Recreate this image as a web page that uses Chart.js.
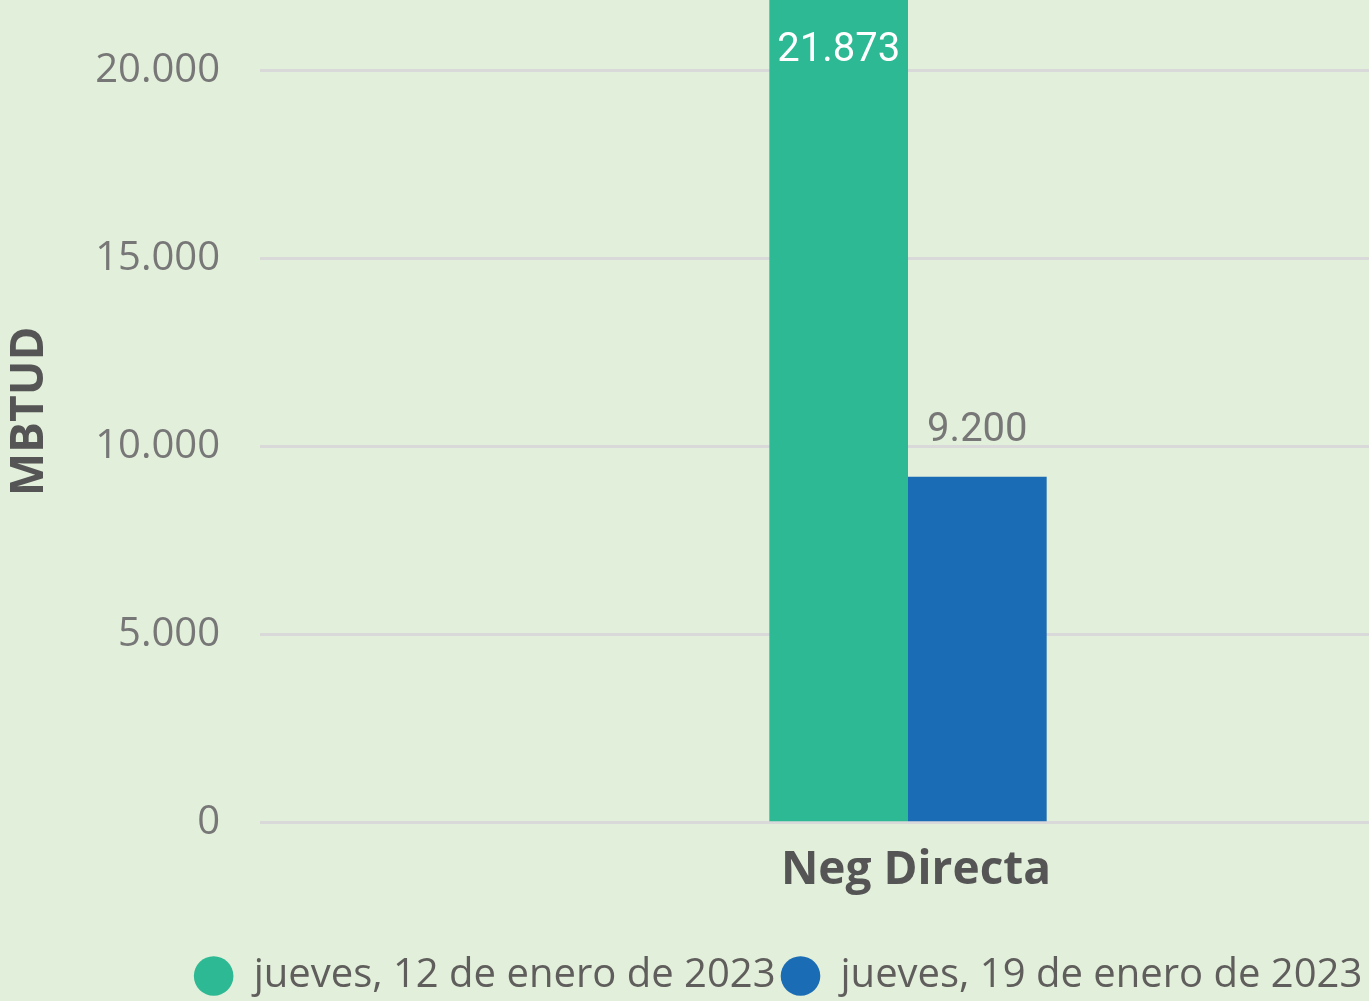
<!DOCTYPE html>
<html lang="es">
<head>
<meta charset="utf-8">
<title>Neg Directa</title>
<script src="https://cdn.jsdelivr.net/npm/chart.js@4/dist/chart.umd.min.js"></script>
<style>
    html, body { margin: 0; padding: 0; background: #e2efda; overflow: hidden; }
    #wrap { width: 1369px; height: 1001px; overflow: hidden; }
</style>
</head>
<body>
<div id="wrap">
    <canvas id="graficoNeg" width="1562" height="1001"></canvas>
</div>

<script>
const categorias = ["Neg Directa"];
const fechas = ["jueves, 12 de enero de 2023", "jueves, 19 de enero de 2023"];
const valores12 = [21873];
const valores19 = [9200];
const ticksY = [0, 5000, 10000, 15000, 20000];
const maxY = 21873;

const colores = ["#2cb993", "#1a6cb4"];



document.addEventListener("DOMContentLoaded", () => {
    crearGrafico();
});



function formato(v){
    return String(Math.round(v)).replace(/\B(?=(\d{3})+(?!\d))/g, ".");
}



// etiquetas de datos (blanca dentro si no cabe arriba)
const etiquetas = {
    id: "etiquetas",
    afterDatasetsDraw(chart){
        const ctx = chart.ctx;
        const area = chart.chartArea;
        ctx.save();
        ctx.font = "40px Roboto";
        ctx.textAlign = "center";
        ctx.textBaseline = "middle";
        chart.data.datasets.forEach((ds, i) => {
            const meta = chart.getDatasetMeta(i);
            meta.data.forEach((bar, j) => {
                const texto = formato(ds.data[j]);
                let y = bar.y - 46;
                ctx.fillStyle = "#777777";
                if (y < area.top + 30) {
                    y = Math.max(bar.y, area.top) + 51;
                    ctx.fillStyle = "#ffffff";
                }
                ctx.fillText(texto, bar.x, y);
            });
        });
        ctx.restore();
    }
};



function crearGrafico(){

    const ctx = document.getElementById("graficoNeg");

    new Chart(ctx, {
        type: "bar",
        data: {
            labels: categorias,
            datasets: [
                {
                    label: fechas[0],
                    data: valores12,
                    backgroundColor: colores[0],
                    categoryPercentage: 0.214,
                    barPercentage: 1
                },
                {
                    label: fechas[1],
                    data: valores19,
                    backgroundColor: colores[1],
                    categoryPercentage: 0.214,
                    barPercentage: 1
                }
            ]
        },
        options: {
            responsive: false,
            animation: false,
            layout: { padding: { left: 0, right: 6, top: 0, bottom: -5 } },
            plugins: {
                legend: {
                    position: "bottom",
                    labels: {
                        usePointStyle: true,
                        pointStyle: "circle",
                        boxHeight: 28,
                        color: "#605e5c",
                        font: { family: "'Open Sans'", size: 40 },
                        padding: 5
                    }
                },
                tooltip: { enabled: false }
            },
            scales: {
                x: {
                    afterFit(scale){
                        scale.height += 41;
                    },
                    grid: { display: false },
                    border: { display: false },
                    ticks: {
                        color: "#555555",
                        font: { family: "'Open Sans'", size: 46, weight: "bold" },
                        padding: 12,
                        labelOffset: 8
                    }
                },
                y: {
                    min: 0,
                    max: maxY,
                    afterFit(scale){
                        scale.width = 260;
                        scale.paddingTop = 0;
                        scale.paddingBottom = 0;
                    },
                    afterBuildTicks(scale){
                        scale.ticks = ticksY.map(v => ({ value: v }));
                    },
                    grid: { color: "#d9d9d9", lineWidth: 3, drawTicks: false },
                    border: { display: false },
                    ticks: {
                        color: "#777777",
                        font: { family: "'Open Sans'", size: 40 },
                        padding: 40,
                        callback: v => formato(v)
                    },
                    title: {
                        display: true,
                        text: "MBTUD",
                        color: "#555555",
                        font: { family: "'Open Sans'", size: 46, weight: "bold" },
                        padding: { top: 2, bottom: 0 }
                    }
                }
            }
        },
        plugins: [etiquetas]
    });

}
</script>
</body>
</html>
